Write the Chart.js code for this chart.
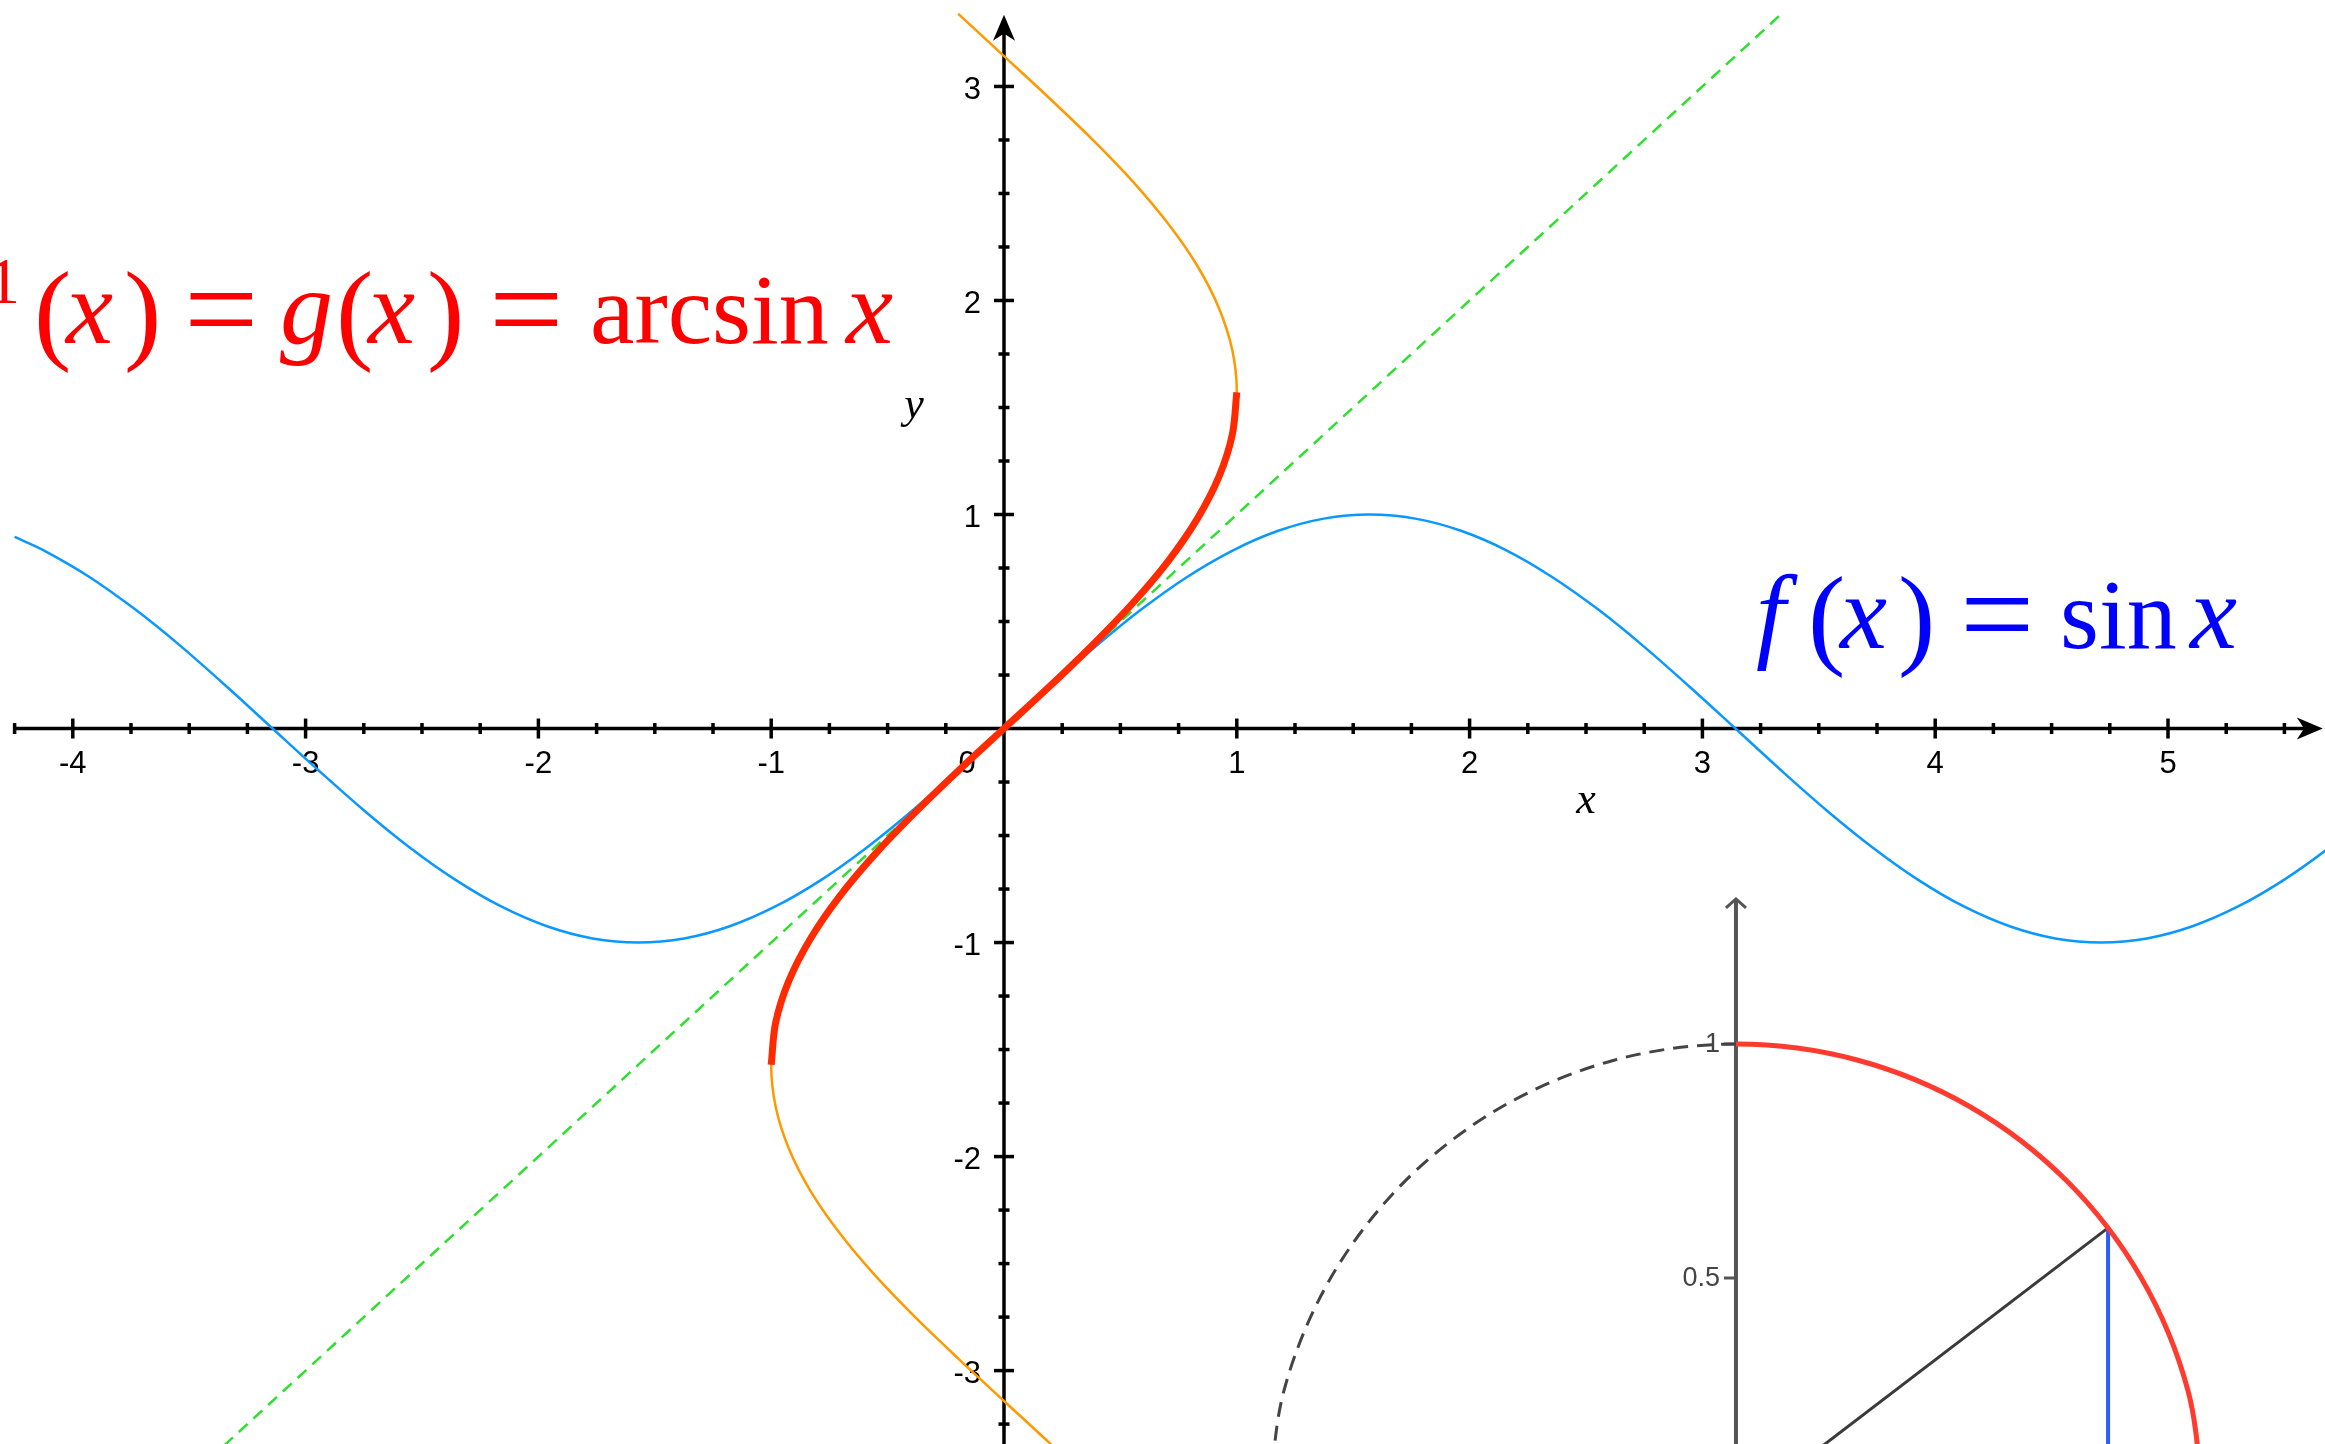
<!DOCTYPE html>
<html>
<head>
<meta charset="utf-8">
<title>sin x and arcsin x</title>
<script src="https://cdn.jsdelivr.net/npm/chart.js@4.4.1/dist/chart.umd.min.js"></script>
<style>
  html, body { margin: 0; padding: 0; background: #fff; }
  canvas { display: block; }
</style>
</head>
<body>
<canvas id="graph" width="2325" height="1444"></canvas>
<script>
// sample positions, k * pi/16 for k = -21 .. 30, plus the left end of the curve
const samplePositions = [
  -4.25, -4.123, -3.927, -3.731, -3.534, -3.338, -3.142, -2.945, -2.749,
  -2.553, -2.356, -2.160, -1.963, -1.767, -1.571, -1.374, -1.178, -0.982, -0.785,
  -0.589, -0.393, -0.196, 0, 0.196, 0.393, 0.589, 0.785, 0.982, 1.178,
  1.374, 1.571, 1.767, 1.963, 2.160, 2.356, 2.553, 2.749, 2.945, 3.142,
  3.338, 3.534, 3.731, 3.927, 4.123, 4.320, 4.516, 4.712, 4.909, 5.105,
  5.301, 5.498, 5.694, 5.890
];
const sineValues = [
  0.8950, 0.8315, 0.7071, 0.5556, 0.3827, 0.1951, 0, -0.1951, -0.3827,
  -0.5556, -0.7071, -0.8315, -0.9239, -0.9808, -1, -0.9808, -0.9239, -0.8315, -0.7071,
  -0.5556, -0.3827, -0.1951, 0, 0.1951, 0.3827, 0.5556, 0.7071, 0.8315, 0.9239,
  0.9808, 1, 0.9808, 0.9239, 0.8315, 0.7071, 0.5556, 0.3827, 0.1951, 0,
  -0.1951, -0.3827, -0.5556, -0.7071, -0.8315, -0.9239, -0.9808, -1, -0.9808, -0.9239,
  -0.8315, -0.7071, -0.5556, -0.3827
];
// x = sin y is traced from the bottom edge up to y = 3.34
const inverseTop = { x: -0.197, y: 3.34 };
const arcsinLimit = 1.571;          // principal branch, |y| <= pi/2
const diagonalEnds = [-3.35, 3.33]; // y = x

// unit circle every 15 degrees, 0..180
const circleCos = [1, 0.9659, 0.8660, 0.7071, 0.5, 0.2588, 0, -0.2588, -0.5, -0.7071, -0.8660, -0.9659, -1];
const circleSin = [0, 0.2588, 0.5, 0.7071, 0.8660, 0.9659, 1, 0.9659, 0.8660, 0.7071, 0.5, 0.2588, 0];
const markedPoint = { x: 0.795, y: 0.607 };

const xTickLabels = ['-4', '-3', '-2', '-1', '0', '1', '2', '3', '4', '5'];
const yTickLabels = ['-3', '-2', '-1', '1', '2', '3'];
const insetTickLabels = ['0.5', '1'];

const sinePoints = samplePositions.map((x, i) => ({ x, y: sineValues[i] }));
const inversePoints = samplePositions
  .map((y, i) => ({ x: sineValues[i], y }))
  .filter(p => p.y > -3.6 && p.y < inverseTop.y)
  .concat([inverseTop]);
const arcsinPoints = inversePoints.filter(p => Math.abs(p.y) <= arcsinLimit);
const diagonalPoints = diagonalEnds.map(v => ({ x: v, y: v }));
const circle = circleCos.map((c, i) => ({ x: c, y: circleSin[i] }));

function arrowHead(ctx, tipX, tipY, angle, len, half) {
  ctx.save();
  ctx.translate(tipX, tipY);
  ctx.rotate(angle);
  ctx.beginPath();
  ctx.moveTo(0, 0);
  ctx.lineTo(-len, -half);
  ctx.lineTo(-len * 0.72, 0);
  ctx.lineTo(-len, half);
  ctx.closePath();
  ctx.fill();
  ctx.restore();
}

function seg(ctx, x1, y1, x2, y2) {
  ctx.beginPath();
  ctx.moveTo(x1, y1);
  ctx.lineTo(x2, y2);
  ctx.stroke();
}

const axesPlugin = {
  id: 'axes',
  beforeDatasetsDraw(chart) {
    const { ctx, scales: { x, y, ix, iy } } = chart;
    const x0 = x.getPixelForValue(0);
    const y0 = y.getPixelForValue(0);
    ctx.save();
    ctx.strokeStyle = '#000';
    ctx.fillStyle = '#000';
    ctx.lineWidth = 3.5;
    ctx.lineCap = 'butt';

    // horizontal axis with arrow
    const xLeft = x.getPixelForValue(-4.25);
    const xTip = x.getPixelForValue(5.665);
    seg(ctx, xLeft, y0, xTip - 12, y0);
    arrowHead(ctx, xTip, y0, 0, 26, 11);

    // vertical axis with arrow
    const yTip = y.getPixelForValue(3.335);
    seg(ctx, x0, chart.height, x0, yTip + 12);
    arrowHead(ctx, x0, yTip, -Math.PI / 2, 26, 11);

    // ticks every quarter unit, longer on whole numbers
    for (let k = -17; k <= 22; k++) {
      if (k === 0) continue;
      const half = k % 4 === 0 ? 10 : 5.5;
      const px = x.getPixelForValue(k / 4);
      seg(ctx, px, y0 - half, px, y0 + half);
    }
    for (let k = -13; k <= 13; k++) {
      if (k === 0) continue;
      const half = k % 4 === 0 ? 10 : 5.5;
      const py = y.getPixelForValue(k / 4);
      seg(ctx, x0 - half, py, x0 + half, py);
    }

    ctx.font = '31px "Liberation Sans", Arial, sans-serif';
    ctx.textBaseline = 'middle';
    ctx.textAlign = 'center';
    xTickLabels.forEach(t => {
      const v = Number(t);
      const px = v === 0 ? x0 - 37 : x.getPixelForValue(v);
      ctx.fillText(t, px, y0 + 36);
    });
    ctx.textAlign = 'right';
    yTickLabels.forEach(t => {
      ctx.fillText(t, x0 - 23, y.getPixelForValue(Number(t)) + 4);
    });

    // axis names
    ctx.font = 'italic 44px "Liberation Serif", serif';
    ctx.textAlign = 'center';
    ctx.textBaseline = 'alphabetic';
    ctx.fillText('y', x0 - 90, y.getPixelForValue(1.45));
    ctx.fillText('x', x.getPixelForValue(2.5), y0 + 84);

    // unit circle inset: vertical axis, ticks and labels
    const ax = ix.getPixelForValue(0);
    const aTop = iy.getPixelForValue(1.31);
    ctx.strokeStyle = '#555';
    ctx.fillStyle = '#444';
    ctx.lineWidth = 4;
    seg(ctx, ax, chart.height, ax, aTop);
    ctx.lineWidth = 3;
    ctx.beginPath();
    ctx.moveTo(ax - 10, aTop + 9);
    ctx.lineTo(ax, aTop);
    ctx.lineTo(ax + 10, aTop + 9);
    ctx.stroke();
    ctx.font = '27px "Liberation Sans", Arial, sans-serif';
    ctx.textAlign = 'right';
    ctx.textBaseline = 'middle';
    insetTickLabels.forEach(t => {
      const py = iy.getPixelForValue(Number(t));
      seg(ctx, ax - 12, py, ax, py);
      ctx.fillText(t, ax - 16, py + 1);
    });
    ctx.restore();
  }
};

// typeset-style formulas, each run placed on its own
function drawRuns(ctx, runs, baseline, color) {
  ctx.save();
  ctx.fillStyle = color;
  ctx.textBaseline = 'alphabetic';
  runs.forEach(([text, font, left, dy = 0, align = 'left']) => {
    ctx.font = font;
    ctx.textAlign = align;
    ctx.fillText(text, left, baseline + dy);
  });
  ctx.restore();
}

const serif = '"Liberation Serif", "DejaVu Serif", serif';
const formulaPlugin = {
  id: 'formulas',
  afterDatasetsDraw(chart) {
    const { ctx } = chart;
    const it = 'italic 106px ' + serif;
    const rm = '100px ' + serif;
    const paren = '112px ' + serif;
    const eq = '132px ' + serif;
    drawRuns(ctx, [
      ['f', it, -80],
      ['\u22121', '66px ' + serif, 20, -40, 'right'],
      ['(', paren, 34, 6],
      ['x', it, 66],
      [')', paren, 124, 6],
      ['=', eq, 184, 10],
      ['g', it, 280],
      ['(', paren, 336, 6],
      ['x', it, 368],
      [')', paren, 427, 6],
      ['=', eq, 489, 10],
      ['arcsin', rm, 590],
      ['x', it, 846]
    ], 343, '#ff0000');
    drawRuns(ctx, [
      ['f', it, 1756],
      ['(', paren, 1808, 6],
      ['x', it, 1840],
      [')', paren, 1898, 6],
      ['=', eq, 1960, 10],
      ['sin', rm, 2060],
      ['x', it, 2190]
    ], 648, '#0000ff');
  }
};

const onRightHalf = c => c.p1.parsed.x > -1e-6;

new Chart(document.getElementById('graph'), {
  type: 'scatter',
  data: {
    datasets: [
      { label: 'arcsin x', data: arcsinPoints, showLine: true, borderColor: '#ff2a00', borderWidth: 7, order: 0 },
      { label: 'y = x', data: diagonalPoints, showLine: true, borderColor: '#2ee02e', borderWidth: 2.5, borderDash: [12, 8], order: 1 },
      { label: 'sin x', data: sinePoints, showLine: true, borderColor: '#0a98ff', borderWidth: 2.5, order: 2 },
      { label: 'x = sin y', data: inversePoints, showLine: true, borderColor: '#ff9900', borderWidth: 2.5, order: 3 },
      {
        label: 'unit circle', data: circle, showLine: true, xAxisID: 'ix', yAxisID: 'iy', order: 4,
        borderColor: '#ff3b2f', borderWidth: 5,
        segment: {
          borderColor: c => onRightHalf(c) ? '#ff3b2f' : '#444',
          borderWidth: c => onRightHalf(c) ? 5 : 3,
          borderDash: c => onRightHalf(c) ? [] : [15, 9]
        }
      },
      { label: 'sine segment', data: [markedPoint, { x: markedPoint.x, y: 0 }], showLine: true, borderColor: '#2a5cff', borderWidth: 4, tension: 0, xAxisID: 'ix', yAxisID: 'iy', order: 5 },
      { label: 'radius', data: [{ x: 0, y: 0 }, markedPoint], showLine: true, borderColor: '#3a3a3a', borderWidth: 3, tension: 0, xAxisID: 'ix', yAxisID: 'iy', order: 6 }
    ]
  },
  options: {
    responsive: false,
    animation: false,
    devicePixelRatio: 1,
    events: [],
    layout: { padding: 0 },
    elements: {
      point: { radius: 0, hoverRadius: 0 },
      line: { tension: 0.33, capBezierPoints: false, fill: false }
    },
    plugins: { legend: { display: false }, tooltip: { enabled: false } },
    scales: {
      x: { type: 'linear', min: -4.3127, max: 5.6744, display: false },
      y: { type: 'linear', min: -3.343, max: 3.404, display: false },
      ix: { type: 'linear', axis: 'x', position: 'bottom', min: -3.709, max: 1.2585, display: false },
      iy: { type: 'linear', axis: 'y', position: 'left', min: 0.1453, max: 3.2308, display: false }
    }
  },
  plugins: [axesPlugin, formulaPlugin]
});
</script>
</body>
</html>
